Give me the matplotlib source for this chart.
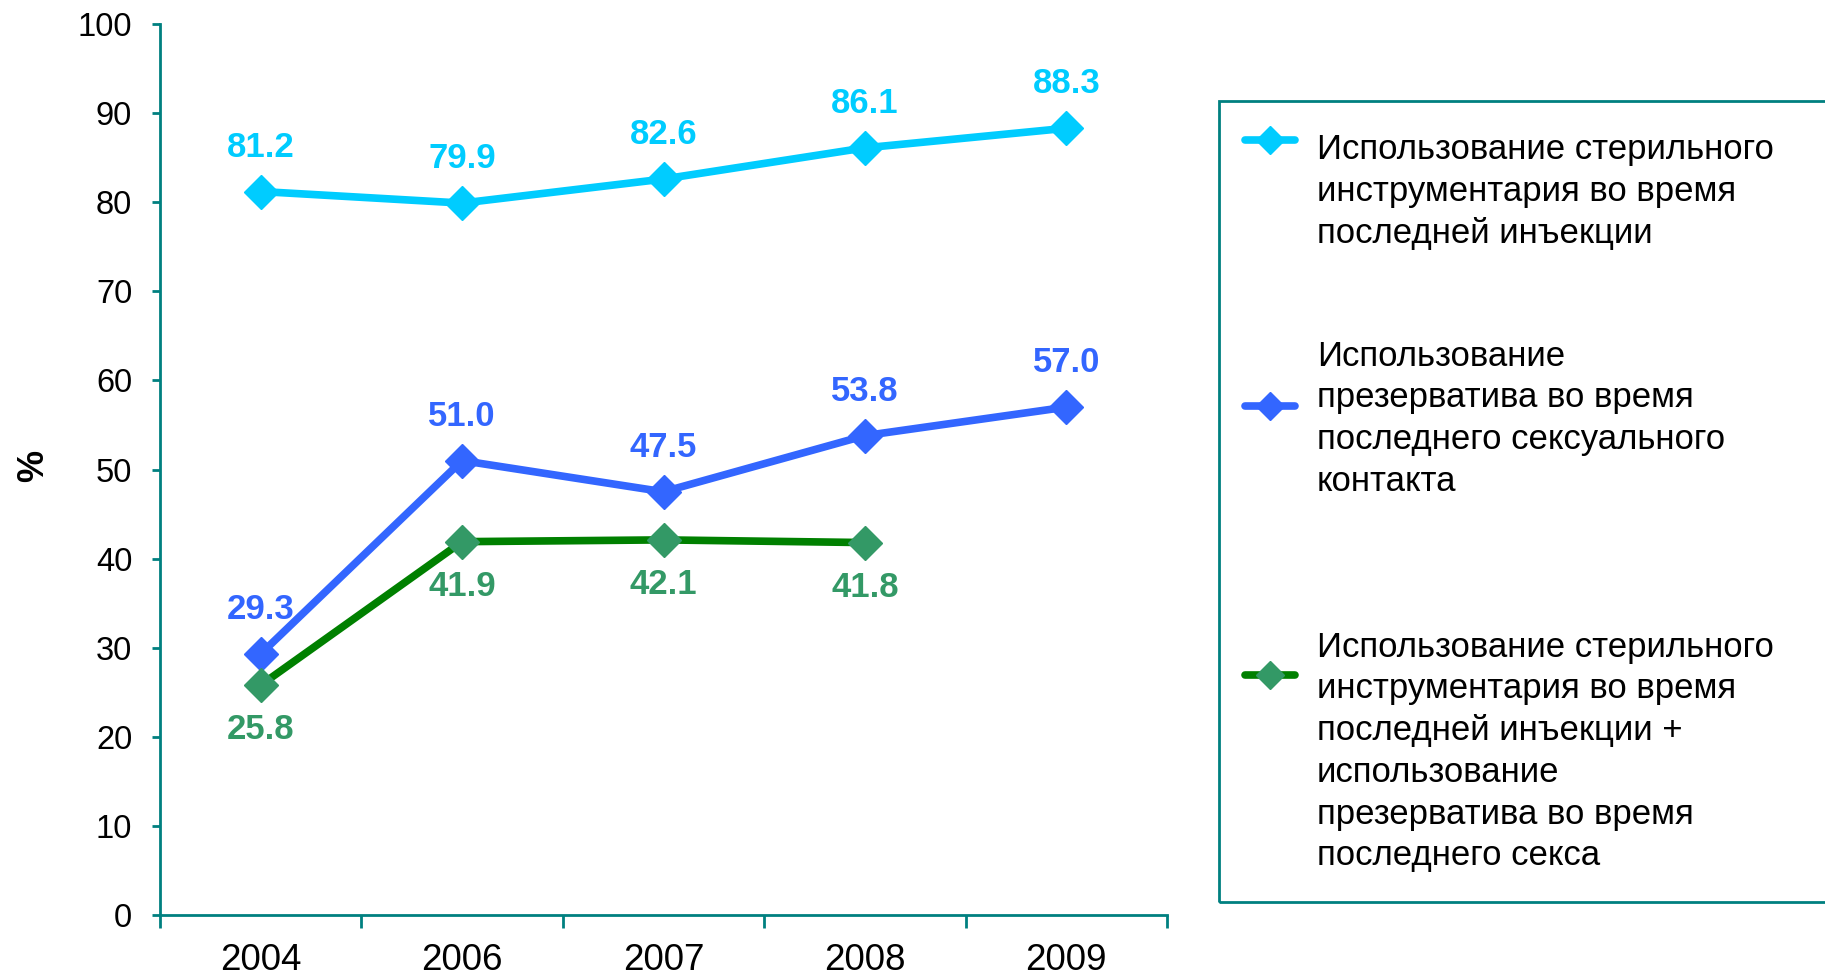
import matplotlib
matplotlib.use("Agg")
import matplotlib.pyplot as plt
from matplotlib.lines import Line2D
from matplotlib.patches import Rectangle

plt.rcParams['font.family'] = ['Liberation Sans', 'DejaVu Sans']

# ---- data ----
years = ["2004", "2006", "2007", "2008", "2009"]
sterile_tools = [81.2, 79.9, 82.6, 86.1, 88.3]
condom_use = [29.3, 51.0, 47.5, 53.8, 57.0]
both_practices = [25.8, 41.9, 42.1, 41.8]

series_names = [
    "Использование стерильного\nинструментария во время\nпоследней инъекции",
    "Использование\nпрезерватива во время\nпоследнего сексуального\nконтакта",
    "Использование стерильного\nинструментария во время\nпоследней инъекции +\nиспользование\nпрезерватива во время\nпоследнего секса",
]

CYAN = "#00CCFF"
BLUE = "#3366FF"
GREEN_LINE = "#008000"
GREEN_MARK = "#339966"
TEAL = "#008080"

W, H = 1825, 977
fig = plt.figure(figsize=(W / 100, H / 100), dpi=100)
ax = fig.add_axes([160 / W, 1 - 915 / H, (1167 - 160) / W, (915 - 24) / H])

styles = [
    (sterile_tools, CYAN, CYAN, CYAN, 32),
    (condom_use, BLUE, BLUE, BLUE, 32),
    (both_practices, GREEN_LINE, GREEN_MARK, GREEN_MARK, -32),
]

for vals, lc, mc, tc, off in styles:
    xs = list(range(len(vals)))
    ax.plot(xs, vals, color=lc, lw=5.5, marker="D", ms=17,
            mfc=mc, mec=mc, solid_joinstyle="round", clip_on=False, zorder=3)
    for x, v in zip(xs, vals):
        ax.annotate(f"{v:.1f}", (x, v), xytext=(0, off), textcoords="offset points",
                    ha="center", va="center", color=tc, fontsize=25,
                    fontweight="bold")

ax.set_xlim(-0.5, len(years) - 0.5)
ax.set_ylim(0, 100)
ax.set_yticks(range(0, 101, 10))
ax.tick_params(axis="y", labelsize=23.5, length=6, width=2, color=TEAL,
               direction="out", pad=14)

# category boundaries carry the tick marks, category centres carry the labels
ax.set_xticks([i - 0.5 for i in range(len(years) + 1)])
ax.set_xticklabels([])
ax.set_xticks(range(len(years)), minor=True)
ax.set_xticklabels(years, minor=True)
ax.tick_params(axis="x", which="major", length=9, width=2, color=TEAL,
               direction="out")
ax.tick_params(axis="x", which="minor", length=0, labelsize=26.5, pad=20)

for s in ("top", "right"):
    ax.spines[s].set_visible(False)
for s in ("left", "bottom"):
    ax.spines[s].set_color(TEAL)
    ax.spines[s].set_linewidth(2)

fig.text(34 / W, 1 - 466 / H, "%", rotation=90, ha="center", va="center",
         fontsize=26, fontweight="bold")

# ---- legend box ----
fig.patches.append(Rectangle((1219 / W, 1 - 902 / H), (W + 20 - 1219) / W,
                             (902 - 101) / H, transform=fig.transFigure,
                             fill=False, edgecolor=TEAL, lw=2, clip_on=False))

handle_y = [140, 406, 675]
text_first = [150, 356, 647]
pitch = 41.8
leg_styles = [(CYAN, CYAN), (BLUE, BLUE), (GREEN_LINE, GREEN_MARK)]
for name, hy, ty, (lc, mc) in zip(series_names, handle_y, text_first, leg_styles):
    yy = 1 - hy / H
    fig.add_artist(Line2D([1245 / W, 1295 / W], [yy, yy], transform=fig.transFigure,
                          color=lc, lw=5.5, solid_capstyle="round"))
    fig.add_artist(Line2D([1270 / W], [yy], transform=fig.transFigure,
                          marker="D", ms=14, color=mc, mec=mc))
    for k, line in enumerate(name.split("\n")):
        fig.text(1317 / W, 1 - (ty + k * pitch) / H, line, ha="left", va="center",
                 fontsize=25)

fig.savefig("out.png", dpi=100)
